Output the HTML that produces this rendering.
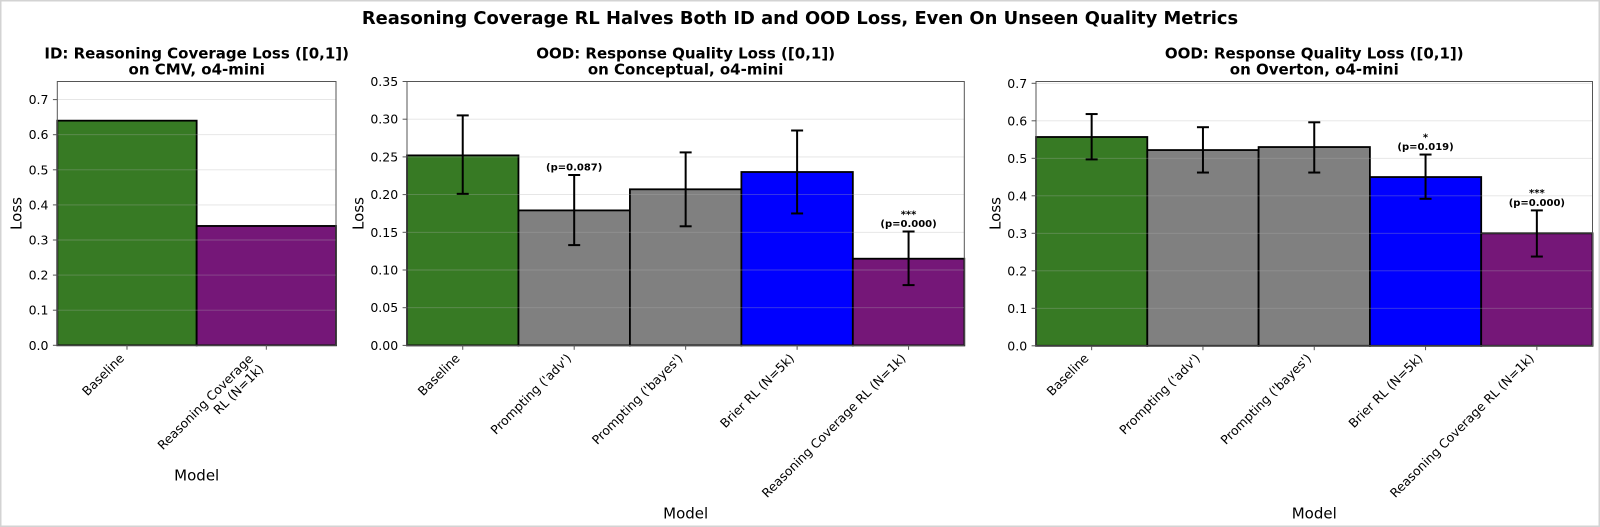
<!DOCTYPE html>
<html>
<head>
<meta charset="utf-8">
<style>
  html, body { margin: 0; padding: 0; background: #ffffff; }
  body { width: 1600px; height: 527px; overflow: hidden; }
  svg { display: block; }
  text { font-family: "DejaVu Sans", "Liberation Sans", sans-serif; fill: #000; }
  .tick { font-size: 12.5px; }
  .ylab { font-size: 15px; }
  .ttl { font-size: 15px; font-weight: bold; }
  .ann { font-size: 10px; font-weight: bold; }
  .grid { stroke: #b0b0b0; stroke-opacity: 0.35; stroke-width: 0.9; }
  .spine { stroke: #555; stroke-width: 1; fill: none; }
  .tk { stroke: #555; stroke-width: 1; }
  .bar { stroke: #000; stroke-width: 1.8; }
  .err { stroke: #000; stroke-width: 2; }
</style>
</head>
<body>
<svg width="1600" height="527" viewBox="0 0 1600 527" xmlns="http://www.w3.org/2000/svg">
  <rect x="0" y="0" width="1600" height="527" fill="#ffffff"/>
  <rect x="0.75" y="0.75" width="1598.5" height="525.5" fill="none" stroke="#d3d3d3" stroke-width="1.5"/>

  <!-- Suptitle -->
  <text x="800" y="24" text-anchor="middle" style="font-size:17.9px;font-weight:bold;">Reasoning Coverage RL Halves Both ID and OOD Loss, Even On Unseen Quality Metrics</text>

  <!-- ================= LEFT PANEL ================= -->
  <text class="ttl" x="196.7" y="58.3" text-anchor="middle">ID: Reasoning Coverage Loss ([0,1])</text>
  <text class="ttl" x="196.7" y="74.5" text-anchor="middle">on CMV, o4-mini</text>

  <!-- bars -->
  <rect class="bar" x="57.3" y="120.66" width="139.35" height="224.64" fill="#377a24"/>
  <rect class="bar" x="196.65" y="225.96" width="139.35" height="119.34" fill="#751778"/>

  <!-- grid -->
  <g class="grid">
    <line x1="57.3" x2="336" y1="310.2" y2="310.2"/>
    <line x1="57.3" x2="336" y1="275.1" y2="275.1"/>
    <line x1="57.3" x2="336" y1="240" y2="240"/>
    <line x1="57.3" x2="336" y1="204.9" y2="204.9"/>
    <line x1="57.3" x2="336" y1="169.8" y2="169.8"/>
    <line x1="57.3" x2="336" y1="134.7" y2="134.7"/>
    <line x1="57.3" x2="336" y1="99.6" y2="99.6"/>
  </g>
  <rect class="spine" x="57.3" y="81.5" width="278.7" height="263.8"/>
  <!-- y ticks -->
  <g class="tk">
    <line x1="52.9" x2="57.3" y1="345.3" y2="345.3"/>
    <line x1="52.9" x2="57.3" y1="310.2" y2="310.2"/>
    <line x1="52.9" x2="57.3" y1="275.1" y2="275.1"/>
    <line x1="52.9" x2="57.3" y1="240" y2="240"/>
    <line x1="52.9" x2="57.3" y1="204.9" y2="204.9"/>
    <line x1="52.9" x2="57.3" y1="169.8" y2="169.8"/>
    <line x1="52.9" x2="57.3" y1="134.7" y2="134.7"/>
    <line x1="52.9" x2="57.3" y1="99.6" y2="99.6"/>
    <line x1="126.98" x2="126.98" y1="345.3" y2="349.7"/>
    <line x1="266.33" x2="266.33" y1="345.3" y2="349.7"/>
  </g>
  <g class="tick" text-anchor="end">
    <text x="48.5" y="349.8">0.0</text>
    <text x="48.5" y="314.7">0.1</text>
    <text x="48.5" y="279.6">0.2</text>
    <text x="48.5" y="244.5">0.3</text>
    <text x="48.5" y="209.4">0.4</text>
    <text x="48.5" y="174.3">0.5</text>
    <text x="48.5" y="139.2">0.6</text>
    <text x="48.5" y="104.1">0.7</text>
  </g>
  <g class="tick" text-anchor="end">
    <text transform="translate(124.9,359) rotate(-45)">Baseline</text>
    <text transform="translate(253.9,359.5) rotate(-45)">Reasoning Coverage</text>
    <text transform="translate(264.3,369.6) rotate(-45)">RL (N=1k)</text>
  </g>
  <text class="ylab" transform="translate(21.6,213.5) rotate(-90)" text-anchor="middle">Loss</text>
  <text class="ylab" x="196.7" y="480.7" text-anchor="middle">Model</text>

  <!-- ================= MIDDLE PANEL ================= -->
  <text class="ttl" x="685.65" y="58.3" text-anchor="middle">OOD: Response Quality Loss ([0,1])</text>
  <text class="ttl" x="685.65" y="74.5" text-anchor="middle">on Conceptual, o4-mini</text>

  <rect class="bar" x="407" y="155.4" width="111.46" height="190" fill="#377a24"/>
  <rect class="bar" x="518.46" y="210.4" width="111.46" height="135" fill="#808080"/>
  <rect class="bar" x="629.92" y="189.3" width="111.46" height="156.1" fill="#808080"/>
  <rect class="bar" x="741.38" y="172.0" width="111.46" height="173.4" fill="#0000ff"/>
  <rect class="bar" x="852.84" y="258.7" width="111.46" height="86.7" fill="#751778"/>

  <g class="grid">
    <line x1="407" x2="964.3" y1="307.7" y2="307.7"/>
    <line x1="407" x2="964.3" y1="270.0" y2="270.0"/>
    <line x1="407" x2="964.3" y1="232.3" y2="232.3"/>
    <line x1="407" x2="964.3" y1="194.6" y2="194.6"/>
    <line x1="407" x2="964.3" y1="156.9" y2="156.9"/>
    <line x1="407" x2="964.3" y1="119.2" y2="119.2"/>
  </g>

  <!-- error bars -->
  <g class="err">
    <line x1="462.73" x2="462.73" y1="115.4" y2="193.85"/>
    <line x1="456.73" x2="468.73" y1="115.4" y2="115.4"/>
    <line x1="456.73" x2="468.73" y1="193.85" y2="193.85"/>

    <line x1="574.19" x2="574.19" y1="175.0" y2="245.1"/>
    <line x1="568.19" x2="580.19" y1="175.0" y2="175.0"/>
    <line x1="568.19" x2="580.19" y1="245.1" y2="245.1"/>

    <line x1="685.65" x2="685.65" y1="152.4" y2="226.3"/>
    <line x1="679.65" x2="691.65" y1="152.4" y2="152.4"/>
    <line x1="679.65" x2="691.65" y1="226.3" y2="226.3"/>

    <line x1="797.11" x2="797.11" y1="130.5" y2="213.45"/>
    <line x1="791.11" x2="803.11" y1="130.5" y2="130.5"/>
    <line x1="791.11" x2="803.11" y1="213.45" y2="213.45"/>

    <line x1="908.57" x2="908.57" y1="231.5" y2="285.1"/>
    <line x1="902.57" x2="914.57" y1="231.5" y2="231.5"/>
    <line x1="902.57" x2="914.57" y1="285.1" y2="285.1"/>
  </g>
  <g class="ann" text-anchor="middle">
    <text x="574.19" y="170.5">(p=0.087)</text>
    <text x="908.57" y="217.3">***</text>
    <text x="908.57" y="227.2">(p=0.000)</text>
  </g>

  <rect class="spine" x="407" y="81.5" width="557.3" height="263.9"/>
  <g class="tk">
    <line x1="402.6" x2="407" y1="345.4" y2="345.4"/>
    <line x1="402.6" x2="407" y1="307.7" y2="307.7"/>
    <line x1="402.6" x2="407" y1="270.0" y2="270.0"/>
    <line x1="402.6" x2="407" y1="232.3" y2="232.3"/>
    <line x1="402.6" x2="407" y1="194.6" y2="194.6"/>
    <line x1="402.6" x2="407" y1="156.9" y2="156.9"/>
    <line x1="402.6" x2="407" y1="119.2" y2="119.2"/>
    <line x1="402.6" x2="407" y1="81.5" y2="81.5"/>
    <line x1="462.73" x2="462.73" y1="345.4" y2="349.8"/>
    <line x1="574.19" x2="574.19" y1="345.4" y2="349.8"/>
    <line x1="685.65" x2="685.65" y1="345.4" y2="349.8"/>
    <line x1="797.11" x2="797.11" y1="345.4" y2="349.8"/>
    <line x1="908.57" x2="908.57" y1="345.4" y2="349.8"/>
  </g>
  <g class="tick" text-anchor="end">
    <text x="398.2" y="349.9">0.00</text>
    <text x="398.2" y="312.2">0.05</text>
    <text x="398.2" y="274.5">0.10</text>
    <text x="398.2" y="236.8">0.15</text>
    <text x="398.2" y="199.1">0.20</text>
    <text x="398.2" y="161.4">0.25</text>
    <text x="398.2" y="123.7">0.30</text>
    <text x="398.2" y="86.0">0.35</text>
  </g>
  <g class="tick" text-anchor="end">
    <text transform="translate(460.6,359) rotate(-45)">Baseline</text>
    <text transform="translate(572.1,359) rotate(-45)">Prompting ('adv')</text>
    <text transform="translate(683.5,359) rotate(-45)">Prompting ('bayes')</text>
    <text transform="translate(795.0,359) rotate(-45)">Brier RL (N=5k)</text>
    <text transform="translate(906.5,359) rotate(-45)">Reasoning Coverage RL (N=1k)</text>
  </g>
  <text class="ylab" transform="translate(363.4,213.5) rotate(-90)" text-anchor="middle">Loss</text>
  <text class="ylab" x="685.65" y="518.4" text-anchor="middle">Model</text>

  <!-- ================= RIGHT PANEL ================= -->
  <text class="ttl" x="1314.25" y="58.3" text-anchor="middle">OOD: Response Quality Loss ([0,1])</text>
  <text class="ttl" x="1314.25" y="74.5" text-anchor="middle">on Overton, o4-mini</text>

  <rect class="bar" x="1036" y="137.0" width="111.3" height="208.8" fill="#377a24"/>
  <rect class="bar" x="1147.3" y="150.05" width="111.3" height="195.75" fill="#808080"/>
  <rect class="bar" x="1258.6" y="147.05" width="111.3" height="198.75" fill="#808080"/>
  <rect class="bar" x="1369.9" y="177.05" width="111.3" height="168.75" fill="#0000ff"/>
  <rect class="bar" x="1481.2" y="233.3" width="111.3" height="112.5" fill="#751778"/>

  <g class="grid">
    <line x1="1036" x2="1592.5" y1="308.3" y2="308.3"/>
    <line x1="1036" x2="1592.5" y1="270.8" y2="270.8"/>
    <line x1="1036" x2="1592.5" y1="233.3" y2="233.3"/>
    <line x1="1036" x2="1592.5" y1="195.8" y2="195.8"/>
    <line x1="1036" x2="1592.5" y1="158.3" y2="158.3"/>
    <line x1="1036" x2="1592.5" y1="120.8" y2="120.8"/>
    <line x1="1036" x2="1592.5" y1="83.3" y2="83.3"/>
  </g>

  <g class="err">
    <line x1="1091.65" x2="1091.65" y1="114.05" y2="159.4"/>
    <line x1="1085.65" x2="1097.65" y1="114.05" y2="114.05"/>
    <line x1="1085.65" x2="1097.65" y1="159.4" y2="159.4"/>

    <line x1="1202.95" x2="1202.95" y1="127.2" y2="172.55"/>
    <line x1="1196.95" x2="1208.95" y1="127.2" y2="127.2"/>
    <line x1="1196.95" x2="1208.95" y1="172.55" y2="172.55"/>

    <line x1="1314.25" x2="1314.25" y1="122.3" y2="172.55"/>
    <line x1="1308.25" x2="1320.25" y1="122.3" y2="122.3"/>
    <line x1="1308.25" x2="1320.25" y1="172.55" y2="172.55"/>

    <line x1="1425.55" x2="1425.55" y1="154.55" y2="198.8"/>
    <line x1="1419.55" x2="1431.55" y1="154.55" y2="154.55"/>
    <line x1="1419.55" x2="1431.55" y1="198.8" y2="198.8"/>

    <line x1="1536.85" x2="1536.85" y1="210.4" y2="256.55"/>
    <line x1="1530.85" x2="1542.85" y1="210.4" y2="210.4"/>
    <line x1="1530.85" x2="1542.85" y1="256.55" y2="256.55"/>
  </g>
  <g class="ann" text-anchor="middle">
    <text x="1425.55" y="140.3">*</text>
    <text x="1425.55" y="150.2">(p=0.019)</text>
    <text x="1536.85" y="196.2">***</text>
    <text x="1536.85" y="206.1">(p=0.000)</text>
  </g>

  <rect class="spine" x="1036" y="81.5" width="556.5" height="264.3"/>
  <g class="tk">
    <line x1="1031.6" x2="1036" y1="345.8" y2="345.8"/>
    <line x1="1031.6" x2="1036" y1="308.3" y2="308.3"/>
    <line x1="1031.6" x2="1036" y1="270.8" y2="270.8"/>
    <line x1="1031.6" x2="1036" y1="233.3" y2="233.3"/>
    <line x1="1031.6" x2="1036" y1="195.8" y2="195.8"/>
    <line x1="1031.6" x2="1036" y1="158.3" y2="158.3"/>
    <line x1="1031.6" x2="1036" y1="120.8" y2="120.8"/>
    <line x1="1031.6" x2="1036" y1="83.3" y2="83.3"/>
    <line x1="1091.65" x2="1091.65" y1="345.8" y2="350.2"/>
    <line x1="1202.95" x2="1202.95" y1="345.8" y2="350.2"/>
    <line x1="1314.25" x2="1314.25" y1="345.8" y2="350.2"/>
    <line x1="1425.55" x2="1425.55" y1="345.8" y2="350.2"/>
    <line x1="1536.85" x2="1536.85" y1="345.8" y2="350.2"/>
  </g>
  <g class="tick" text-anchor="end">
    <text x="1027.2" y="350.3">0.0</text>
    <text x="1027.2" y="312.8">0.1</text>
    <text x="1027.2" y="275.3">0.2</text>
    <text x="1027.2" y="237.8">0.3</text>
    <text x="1027.2" y="200.3">0.4</text>
    <text x="1027.2" y="162.8">0.5</text>
    <text x="1027.2" y="125.3">0.6</text>
    <text x="1027.2" y="87.8">0.7</text>
  </g>
  <g class="tick" text-anchor="end">
    <text transform="translate(1089.5,359) rotate(-45)">Baseline</text>
    <text transform="translate(1200.8,359) rotate(-45)">Prompting ('adv')</text>
    <text transform="translate(1312.1,359) rotate(-45)">Prompting ('bayes')</text>
    <text transform="translate(1423.4,359) rotate(-45)">Brier RL (N=5k)</text>
    <text transform="translate(1534.7,359) rotate(-45)">Reasoning Coverage RL (N=1k)</text>
  </g>
  <text class="ylab" transform="translate(1000.4,213.5) rotate(-90)" text-anchor="middle">Loss</text>
  <text class="ylab" x="1314.25" y="518.4" text-anchor="middle">Model</text>
</svg>
</body>
</html>
